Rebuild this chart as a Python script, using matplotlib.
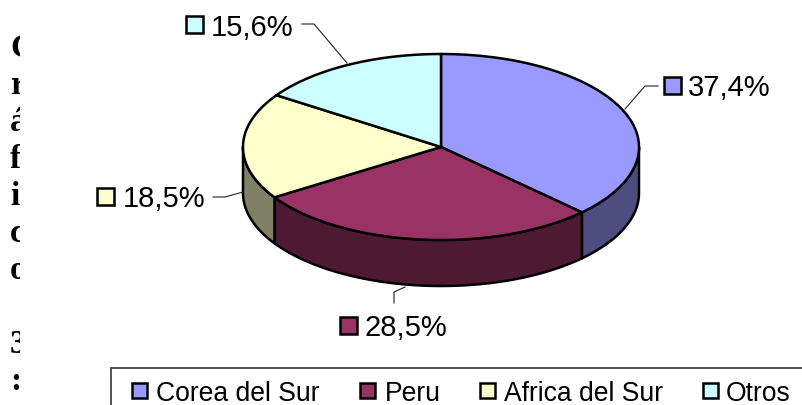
import numpy as np
from matplotlib import pyplot as plt
from matplotlib.patches import Rectangle

# Chart data
categories = ["Corea del Sur", "Peru", "Africa del Sur", "Otros"]
shares = [37.4, 28.5, 18.5, 15.6]
share_labels = ["37,4%", "28,5%", "18,5%", "15,6%"]
side_letters = ["G", "r", "á", "f", "i", "c", "o", "", "3", ":"]

top_colors = ["#9999FF", "#993366", "#FFFFCC", "#CCFFFF"]
side_colors = ["#4D4D80", "#4D1933", "#808066", "#668080"]

# Pie geometry, in pixels of the 802x406 picture
CX, CY, RX, RY, DEPTH = 441, 148, 198, 93, 46
EDGE = 1.8
FONT = ["Liberation Sans", "DejaVu Sans"]


def ellipse_arc(start, end, y_offset=0):
    # angles are in degrees, clockwise from twelve o'clock
    t = np.radians(np.linspace(start, end, 120))
    return CX + RX * np.sin(t), CY + y_offset - RY * np.cos(t)


fig = plt.figure(figsize=(8.02, 4.06), dpi=100)
ax = fig.add_axes([0, 0, 1, 1])
ax.set_xlim(0, 802)
ax.set_ylim(406, 0)
ax.axis("off")

edges = np.concatenate([[0], np.cumsum(shares) / sum(shares) * 360])

# Side wall, only the front half of the pie shows it
for idx in range(len(shares)):
    start, end = max(edges[idx], 90), min(edges[idx + 1], 270)
    if start >= end:
        continue
    x_top, y_top = ellipse_arc(start, end)
    x_bot, y_bot = ellipse_arc(start, end, DEPTH)
    ax.fill(
        np.concatenate([x_top, x_bot[::-1]]),
        np.concatenate([y_top, y_bot[::-1]]),
        facecolor=side_colors[idx],
        edgecolor="black",
        linewidth=EDGE,
        joinstyle="round",
    )

# Top face
for idx in range(len(shares)):
    x_arc, y_arc = ellipse_arc(edges[idx], edges[idx + 1])
    ax.fill(
        np.concatenate([[CX], x_arc]),
        np.concatenate([[CY], y_arc]),
        facecolor=top_colors[idx],
        edgecolor="black",
        linewidth=EDGE,
        joinstyle="round",
    )

# Data labels: square, text and leader line
label_boxes = [(664, 78), (340, 318), (97, 189), (186, 17)]
label_text_x = [688, 364, 123, 211]
leaders = [
    ([658, 645, 625], [87, 87, 110]),
    ([394, 394, 405], [304, 293, 288]),
    ([213, 225, 243], [198, 198, 193]),
    ([302, 314, 347], [25, 25, 64]),
]
for idx, text in enumerate(share_labels):
    x, y = label_boxes[idx]
    ax.add_patch(
        Rectangle((x, y), 17, 17, facecolor=top_colors[idx], edgecolor="black", linewidth=EDGE)
    )
    ax.text(label_text_x[idx], y + 7.5, text, fontsize=21, family=FONT, ha="left", va="center_baseline", color="black")
    ax.plot(*leaders[idx], color="#222222", linewidth=0.8)

# Legend, runs off the bottom and the right of the picture
ax.add_patch(Rectangle((111, 369), 720, 60, facecolor="white", edgecolor="#444444", linewidth=1.3))
legend_boxes = [132, 360, 480, 703]
legend_text_x = [156, 385, 504, 726]
for idx, name in enumerate(categories):
    ax.add_patch(
        Rectangle((legend_boxes[idx], 384), 15, 15, facecolor=top_colors[idx], edgecolor="black", linewidth=EDGE)
    )
    ax.text(legend_text_x[idx], 391.5, name, fontsize=19.1, family=FONT, ha="left", va="center_baseline", color="black")

# Vertical caption at the left, cut off by its narrow column
clip = Rectangle((0, 0), 20, 406, transform=ax.transData)
for idx, letter in enumerate(side_letters):
    t = ax.text(
        10,
        45 + idx * 37,
        letter,
        fontsize=24,
        family=["Liberation Serif", "DejaVu Serif"],
        weight="bold",
        ha="left",
        va="center_baseline",
        color="black",
    )
    t.set_clip_path(clip)
    t.set_clip_on(True)

fig.savefig("out.png", dpi=100)
